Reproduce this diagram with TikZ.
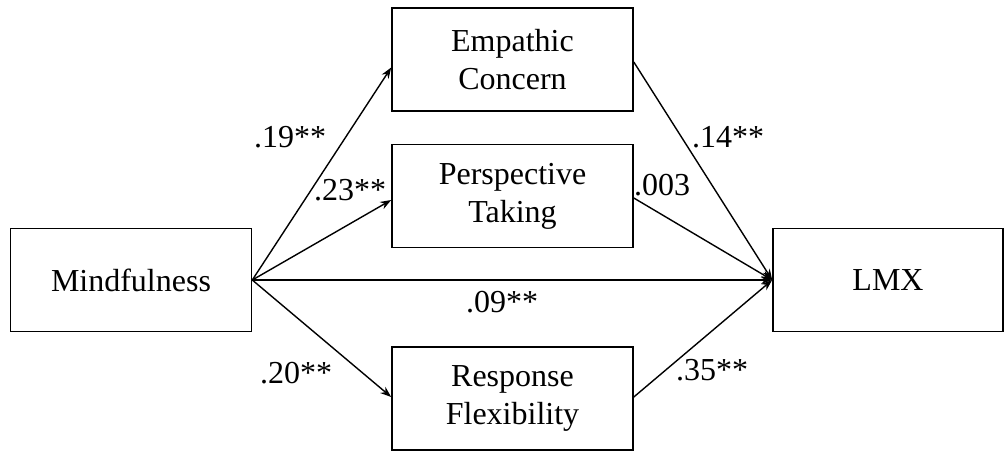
\documentclass[tikz,border=0pt]{standalone}
\usepackage{fontspec}
\setmainfont{Liberation Serif}
\usetikzlibrary{arrows.meta}
\begin{document}
\begin{tikzpicture}[x=1pt,y=-1pt,
 box/.style={draw, line width=1.6pt, minimum width=241pt, minimum height=103pt, align=center, font=\fontsize{32}{38}\selectfont, inner sep=0pt},
 lab/.style={font=\fontsize{32}{38}\selectfont, inner sep=0pt},
 conn/.style={line width=1.4pt, -{Stealth[length=11pt,width=8pt]}}]
\useasboundingbox[fill=white] (0,0) rectangle (1005,451);
\node[box] (mf) at (131,280) {Mindfulness};
\node[box] (ec) at (512.5,59.5) {Empathic\\Concern};
\node[box] (pt) at (512.5,196) {Perspective\\Taking};
\node[box] (rf) at (512.5,398.5) {Response\\Flexibility};
\node[box, minimum width=230pt] (lmx) at (888,280) {LMX};
\draw[conn] (mf.east) -- ([yshift=-8pt]ec.west);
\draw[conn] (mf.east) -- ([yshift=-4pt]pt.west);
\draw[conn] (mf.east) -- (lmx.west);
\draw[conn] (mf.east) -- ([yshift=1.5pt]rf.west);
\draw[conn] ([yshift=-2.5pt]ec.east) -- (lmx.west);
\draw[conn] ([yshift=-2pt]pt.east) -- (lmx.west);
\draw[conn] ([yshift=1.5pt]rf.east) -- (lmx.west);
\node[lab] (l19) at (290,137) {.19**};
\node[lab] (l23) at (350,190) {.23**};
\node[lab] (l20) at (296,373) {.20**};
\node[lab] (l14) at (728,137) {.14**};
\node[lab] (l003) at (662,185) {.003};
\node[lab] (l35) at (712,370) {.35**};
\node[lab] (l09) at (502,302) {.09**};
\end{tikzpicture}
\end{document}
